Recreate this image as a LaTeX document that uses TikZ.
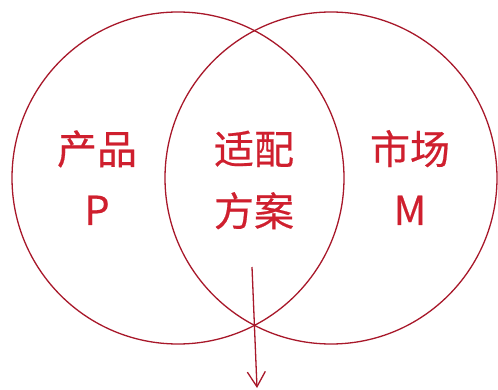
\documentclass[tikz,border=0pt]{standalone}
\usepackage{fontspec}
\newfontfamily\cjk[RawFeature={embolden=0.5}]{Noto Sans CJK SC}
\usetikzlibrary{arrows.meta}
\definecolor{ringred}{HTML}{A8182A}
\definecolor{textred}{HTML}{CF1F2E}
\tikzset{
  ring/.style={draw=ringred, line width=1.3pt},
  lbl/.style={text=textred, font=\cjk\fontsize{40}{48}\selectfont, anchor=base, inner sep=0pt},
  flow/.style={draw=ringred, line width=1.3pt, -{Straight Barb[length=15pt,width=18pt,line width=1.3pt]}}
}
\begin{document}
\begin{tikzpicture}[x=1pt,y=-1pt]
\useasboundingbox (0,0) rectangle (498,390);
\fill[white] (0,0) rectangle (498,390);
\node[ring, circle, minimum size=332pt, inner sep=0pt] (L) at (178,178) {};
\node[ring, circle, minimum size=332pt, inner sep=0pt] (R) at (331,178) {};
\node[lbl] (p1) at (97,164) {产品};
\node[lbl] (p2) at (97,225) {P};
\node[lbl] (a1) at (254,164) {适配};
\node[lbl] (a2) at (254,226) {方案};
\node[lbl] (m1) at (410,164) {市场};
\node[lbl] (m2) at (410,225) {M};
\coordinate (s) at (252,267);
\coordinate (e) at (257,388);
\draw[flow] (s) -- (e);
\end{tikzpicture}
\end{document}
